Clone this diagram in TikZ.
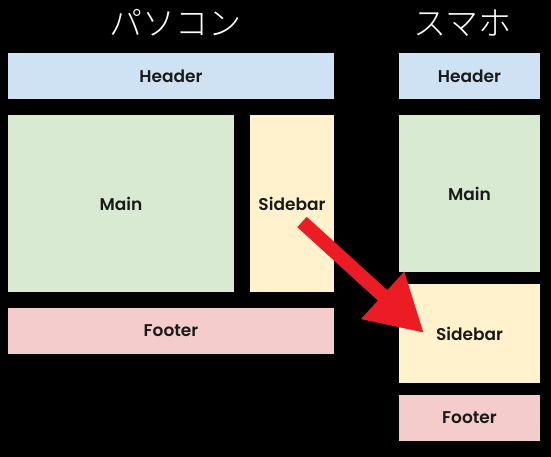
\documentclass[tikz,border=0pt]{standalone}
\usepackage{fontspec}
\newfontfamily\cjk{Noto Sans CJK JP}[UprightFont={* Light}]
\newfontfamily\boxfont{Poppins}[BoldFont={Poppins SemiBold}]
\usetikzlibrary{arrows.meta}

\definecolor{headerblue}{HTML}{CFE2F3}
\definecolor{maingreen}{HTML}{D9EAD3}
\definecolor{sideyellow}{HTML}{FFF2CC}
\definecolor{footerpink}{HTML}{F4CCCC}
\definecolor{arrowred}{HTML}{EC1C24}
\definecolor{labelgray}{HTML}{1A1A1A}

\begin{document}
\begin{tikzpicture}[x=1pt, y=-1pt]
            \tikzset{every node/.style={inner sep=0pt, outer sep=0pt},
                     layoutbox/.style={minimum width=#1, text=labelgray,
                         font=\boxfont\bfseries\fontsize{17}{17}\selectfont},
                     title/.style={text=white, font=\cjk\fontsize{33}{33}\selectfont},
                     movearrow/.style={draw=arrowred, line width=14pt,
                         -{Triangle[length=56pt, width=60pt]}}}

            \fill[black] (0,0) rectangle (551,457);
            \useasboundingbox (0,0) rectangle (551,457);

            % パソコン
            \node[title] (pc-title) at (175,23) {パソコン};
            \node[layoutbox=326pt, minimum height=46pt, fill=headerblue] (pc-header) at (171,76) {Header};
            \node[layoutbox=226pt, minimum height=177pt, fill=maingreen] (pc-main) at (121,203.5) {Main};
            \node[layoutbox=84pt, minimum height=177pt, fill=sideyellow] (pc-sidebar) at (292,203.5) {Sidebar};
            \node[layoutbox=326pt, minimum height=46pt, fill=footerpink] (pc-footer) at (171,331) {Footer};

            % スマホ
            \node[title] (sp-title) at (462,23) {スマホ};
            \node[layoutbox=141pt, minimum height=46pt, fill=headerblue] (sp-header) at (469.5,76) {Header};
            \node[layoutbox=141pt, minimum height=157pt, fill=maingreen] (sp-main) at (469.5,193.5) {Main};
            \node[layoutbox=141pt, minimum height=99pt, fill=sideyellow] (sp-sidebar) at (469.5,333.5) {Sidebar};
            \node[layoutbox=141pt, minimum height=46pt, fill=footerpink] (sp-footer) at (469.5,418) {Footer};

            \coordinate (move-from) at (302,222);
            \coordinate (move-to) at (424,333);
            \draw[movearrow] (move-from) -- (move-to);
        \end{tikzpicture}
\end{document}
